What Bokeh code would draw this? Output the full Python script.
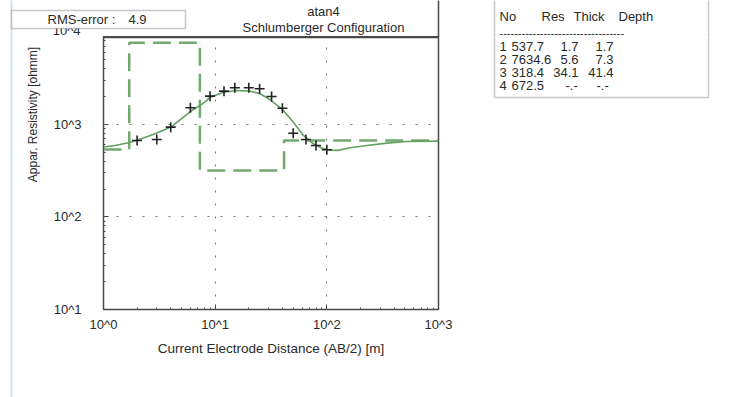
from bokeh.plotting import figure
from bokeh.models import Range1d, FixedTicker, Label, BoxAnnotation
from bokeh.layouts import row, column
from bokeh.embed import file_html
from bokeh.resources import INLINE
import math

# ---- data ----
# observed apparent resistivity (field data, "+" markers)
ab2_obs = [2, 3, 4, 6, 9, 12, 15, 20, 25, 32, 40, 50, 65, 80, 100]
rho_obs = [671, 689, 935, 1517, 2023, 2291, 2493, 2493, 2433, 2009, 1500, 805, 689, 593, 532]

# model response curve (solid line)
ab2_model = [1.0, 1.27, 1.67, 2.06, 2.9, 4.1, 6.2, 8.1, 9.0, 11.9, 15.6, 20.6, 25.3, 31.1,
             39.5, 50.2, 61.7, 75.9, 90, 107, 125, 162, 228, 344, 520, 900, 1000]
rho_model = [570, 592, 634, 684, 794, 951, 1416, 1742, 1973, 2234, 2333, 2291, 2147, 1849,
             1478, 1059, 761, 618, 555, 527, 525, 560, 593, 628, 655, 660, 662]

# layered model (table + dashed step line)
layer_no = [1, 2, 3, 4]
layer_res = [537.7, 7634.6, 318.4, 672.5]
layer_thick = [1.7, 5.6, 34.1, None]
layer_depth = [1.7, 7.3, 41.4, None]

rms_error = 4.9
title_top = "atan4"
title_sub = "Schlumberger Configuration"
x_label = "Current Electrode Distance (AB/2) [m]"
y_label = "Appar. Resistivity [ohmm]"
x_ticks = [1, 10, 100, 1000]
x_tick_labels = ["10^0", "10^1", "10^2", "10^3"]
y_ticks = [10, 100, 1000]
y_tick_labels = ["10^1", "10^2", "10^3"]
y_top_label = "10^4"
table_header = ["No", "Res", "Thick", "Depth"]

# ---- build step line from layer table ----
x_min, x_max = 1, 1000
y_min, y_max = 10, 8710
step_x = [x_min]
step_y = [layer_res[0]]
for i, d in enumerate(layer_depth):
    if d is None:
        break
    step_x += [d, d]
    step_y += [layer_res[i], layer_res[i + 1]]
step_x.append(x_max)
step_y.append(layer_res[-1])

FONT = "Liberation Sans"
TXT = "#2a2a2a"
GREEN = "#62a062"
EDGE = "#4a4a4a"
LIGHT = "#d3e0ee"
W, H = 738, 397
XA, XB = 45, 455      # column boundaries of the lower row (canvas px)
HEAD_H = 37           # header height


def blank(w, h):
    f = figure(width=w, height=h, output_backend="svg", toolbar_location=None,
               x_axis_location=None, y_axis_location=None,
               x_range=Range1d(0, 1), y_range=Range1d(0, 1),
               min_border=0, min_border_left=0, min_border_right=0,
               min_border_top=0, min_border_bottom=0)
    f.outline_line_color = None
    f.grid.visible = False
    f.background_fill_color = "white"
    f.border_fill_color = "white"
    return f


def box(f, ox, oy, l, r, t, b, fill="white", line=EDGE, lw=1.5):
    h = f.height
    f.add_layout(BoxAnnotation(left=l - ox, right=r - ox, top=h - (t - oy), bottom=h - (b - oy),
                               left_units="screen", right_units="screen",
                               top_units="screen", bottom_units="screen",
                               fill_color=fill, fill_alpha=1.0,
                               line_color=line, line_width=lw))


def text(f, ox, oy, x, y, s, size="13px", align="left", angle=0.0):
    h = f.height
    f.add_layout(Label(x=x - ox, y=h - (y - oy), x_units="screen", y_units="screen", text=s,
                       text_font=FONT, text_font_size=size, text_color=TXT,
                       text_align=align, text_baseline="middle", angle=angle))


TAB_L, TAB_R, TAB_B = 494, 708, 97
FL, FR, FT, FB = 103, 438, 37, 309

# ---------- header (full width) ----------
head = blank(W, HEAD_H)
box(head, 0, 0, 10, 12, -5, HEAD_H + 5, fill=LIGHT, line=None, lw=0)
text(head, 0, 0, 80, 29.5, y_top_label, align="right")
box(head, 0, 0, 11, 185, 10, 28, fill="white", line=EDGE, lw=1.5)
text(head, 0, 0, 47, 19, "RMS-error :")
text(head, 0, 0, 128, 19, "%.1f" % rms_error)
text(head, 0, 0, 323, 11, title_top, align="center")
text(head, 0, 0, 323, 27, title_sub, align="center")
box(head, 0, 0, FL - 0.75, FR + 0.75, 35.5, 37, fill=EDGE, line=None, lw=0)
box(head, 0, 0, FR - 0.75, FR + 0.75, -5, HEAD_H + 5, fill=EDGE, line=None, lw=0)
box(head, 0, 0, TAB_L, TAB_R, -5, HEAD_H + 10, fill="white", line=EDGE, lw=1.5)
for s, hx in zip(table_header, [499, 541, 573, 618]):
    text(head, 0, 0, hx, 16, s)
text(head, 0, 0, 499, 32, "-" * 34, size="11px")

# ---------- left strip: light edge line, y label ----------
left = blank(XA, H - HEAD_H)
box(left, 0, HEAD_H, 10, 12, 0, H + 5, fill=LIGHT, line=None, lw=0)
text(left, 0, HEAD_H, 32, 114, y_label, size="12px", align="center", angle=math.pi / 2)

# ---------- main plot ----------
p = figure(width=XB - XA, height=H - HEAD_H, x_axis_type="log", y_axis_type="log",
           x_range=Range1d(x_min, x_max), y_range=Range1d(y_min, y_max),
           output_backend="svg", toolbar_location=None,
           min_border_left=FL - XA, min_border_right=XB - FR,
           min_border_top=FT - HEAD_H, min_border_bottom=H - FB)
p.background_fill_color = "white"
p.border_fill_color = "white"
p.outline_line_color = EDGE
p.outline_line_width = 1.5

minor_x = [m * 10 ** k for k in range(0, 3) for m in range(2, 10)]
minor_y = [m * 10 ** k for k in range(1, 4) for m in range(2, 10)]
xt = FixedTicker(ticks=x_ticks, minor_ticks=minor_x)
yt = FixedTicker(ticks=y_ticks, minor_ticks=minor_y)

for ax, tk, labs in ((p.xaxis[0], xt, x_tick_labels), (p.yaxis[0], yt, y_tick_labels)):
    ax.ticker = tk
    ax.major_label_overrides = {t: l for t, l in zip(tk.ticks, labs)}
    ax.major_tick_in = 5
    ax.major_tick_out = 0
    ax.minor_tick_in = 2
    ax.minor_tick_out = 0
    ax.axis_line_color = EDGE
    ax.major_tick_line_color = EDGE
    ax.minor_tick_line_color = EDGE
    ax.major_label_text_font = FONT
    ax.major_label_text_font_size = "13px"
    ax.major_label_text_color = TXT

p.xaxis.major_label_standoff = 7
p.yaxis.major_label_standoff = 22
p.xaxis.axis_label = x_label
p.xaxis.axis_label_text_font = FONT
p.xaxis.axis_label_text_font_size = "13.5px"
p.xaxis.axis_label_text_font_style = "normal"
p.xaxis.axis_label_text_color = TXT
p.xaxis.axis_label_standoff = 6

for g, tk in ((p.xgrid[0], xt), (p.ygrid[0], yt)):
    g.ticker = tk
    g.grid_line_color = "#777777"
    g.grid_line_dash = "2 11"
    g.grid_line_width = 1

# dashed layered model
p.line(step_x, step_y, line_color=GREEN, line_width=2.5, line_dash="18 8", line_alpha=0.9)
# model curve
p.line(ab2_model, rho_model, line_color=GREEN, line_width=1.6)
# observed data
p.scatter(ab2_obs, rho_obs, marker="cross", size=10, line_color="#222222", line_width=1.6)

# ---------- right: layer table (lower part) ----------
tab = blank(W - XB, H - HEAD_H)
box(tab, XB, HEAD_H, TAB_L, TAB_R, HEAD_H - 10, TAB_B, fill="white", line=EDGE, lw=1.5)
row_y = [46, 59, 72, 85]
for i in range(len(layer_no)):
    y = row_y[i]
    th = "-.-" if layer_thick[i] is None else "%.1f" % layer_thick[i]
    dp = "-.-" if layer_depth[i] is None else "%.1f" % layer_depth[i]
    text(tab, XB, HEAD_H, 499, y, str(layer_no[i]))
    text(tab, XB, HEAD_H, 511, y, "%.1f" % layer_res[i])
    if layer_thick[i] is None:
        text(tab, XB, HEAD_H, 565, y, th)
    else:
        text(tab, XB, HEAD_H, 578, y, th, align="right")
    if layer_depth[i] is None:
        text(tab, XB, HEAD_H, 596, y, dp)
    else:
        text(tab, XB, HEAD_H, 613, y, dp, align="right")

layout = column(head, row(column(left), column(p), column(tab)))
open("out.html", "w").write(file_html(layout, INLINE))
